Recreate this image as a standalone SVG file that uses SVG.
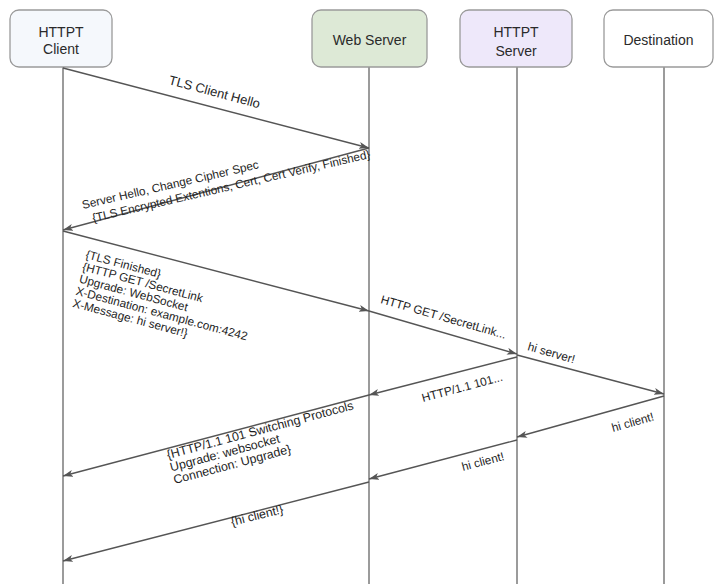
<svg xmlns="http://www.w3.org/2000/svg" width="715" height="584" viewBox="0 0 715 584">
  <style>
    .box { stroke: #9a9a9a; stroke-width: 1.3; }
    .life { stroke: #7a7a7a; stroke-width: 1.5; fill: none; }
    .msg { stroke: #555; stroke-width: 1.4; fill: none; marker-end: url(#head); }
    .node { font-family: "Liberation Sans", Arial, sans-serif; font-size: 14px; fill: #2a2a2a; text-anchor: middle; }
    .lbl { font-family: "Liberation Sans", Arial, sans-serif; font-size: 11.8px; fill: #1e1e1e; }
    .big { font-size: 13px; }
    .mid { font-size: 12.4px; }
  </style>
  <defs>
    <marker id="head" markerUnits="userSpaceOnUse" markerWidth="11" markerHeight="8" refX="10" refY="3.5" orient="auto">
      <path d="M0,0 L10,3.5 L0,7 L2.5,3.5 Z" fill="#555"/>
    </marker>
  </defs>
  <rect width="715" height="584" fill="#ffffff"/>

  <!-- lifelines -->
  <g id="lifelines">
    <line class="life" x1="63" y1="67" x2="63" y2="584"/>
    <line class="life" x1="369" y1="67" x2="369" y2="584"/>
    <line class="life" x1="517" y1="67" x2="517" y2="584"/>
    <line class="life" x1="664" y1="67" x2="664" y2="584"/>
  </g>

  <!-- participants -->
  <g id="httpt-client">
    <rect class="box" x="10" y="10" width="102" height="57" rx="9" fill="#f5f8fc"/>
    <text class="node" x="61" y="37">HTTPT</text>
    <text class="node" x="61" y="54">Client</text>
  </g>
  <g id="web-server">
    <rect class="box" x="312" y="10" width="115" height="57" rx="9" fill="#dde9d6" stroke="#8f9c87"/>
    <text class="node" x="369.5" y="45">Web Server</text>
  </g>
  <g id="httpt-server">
    <rect class="box" x="460" y="10" width="112" height="57" rx="9" fill="#eee8fa" stroke="#a8a0b5"/>
    <text class="node" x="516" y="37">HTTPT</text>
    <text class="node" x="516" y="56">Server</text>
  </g>
  <g id="destination">
    <rect class="box" x="604" y="10" width="109" height="57" rx="9" fill="#ffffff"/>
    <text class="node" x="658.5" y="45">Destination</text>
  </g>

  <!-- messages -->
  <g id="connectors">
    <line class="msg" x1="63" y1="68" x2="369" y2="148"/>
    <line class="msg" x1="369" y1="148" x2="63" y2="230"/>
    <line class="msg" x1="63" y1="231" x2="369" y2="311"/>
    <line class="msg" x1="369" y1="311" x2="517" y2="354"/>
    <line class="msg" x1="517" y1="355" x2="664" y2="394"/>
    <line class="msg" x1="517" y1="357" x2="369" y2="395"/>
    <line class="msg" x1="369" y1="395" x2="63" y2="476"/>
    <line class="msg" x1="664" y1="396" x2="517" y2="437"/>
    <line class="msg" x1="517" y1="440" x2="369" y2="479"/>
    <line class="msg" x1="369" y1="482" x2="63" y2="561"/>
  </g>

  <!-- message labels -->
  <g id="labels">
    <text class="lbl big" transform="translate(168,84) rotate(15)">TLS Client Hello</text>
    <text class="lbl" transform="translate(83,209) rotate(-13)">
      <tspan x="0" y="0">Server Hello, Change Cipher Spec</tspan>
      <tspan x="7" y="15">{TLS Encrypted Extentions, Cert, Cert Verify, Finished}</tspan>
    </text>
    <text class="lbl" transform="translate(85,258) rotate(15)">
      <tspan x="0" y="0">{TLS Finished}</tspan>
      <tspan x="0" y="12.6">{HTTP GET /SecretLink</tspan>
      <tspan x="0" y="25.2">Upgrade: WebSocket</tspan>
      <tspan x="0" y="37.8">X-Destination: example.com:4242</tspan>
      <tspan x="0" y="50.4">X-Message: hi server!}</tspan>
    </text>
    <text class="lbl" transform="translate(380,303) rotate(16)">HTTP GET /SecretLink...</text>
    <text class="lbl" transform="translate(527,350) rotate(16)">hi server!</text>
    <text class="lbl" transform="translate(423,402) rotate(-15)">HTTP/1.1 101...</text>
    <text class="lbl mid" transform="translate(168,459) rotate(-15)">
      <tspan x="0" y="0">{HTTP/1.1 101 Switching Protocols</tspan>
      <tspan x="0" y="13">Upgrade: websocket</tspan>
      <tspan x="0" y="26">Connection: Upgrade}</tspan>
    </text>
    <text class="lbl" transform="translate(613,432) rotate(-16)">hi client!</text>
    <text class="lbl" transform="translate(463,471) rotate(-15)">hi client!</text>
    <text class="lbl mid" transform="translate(232,526) rotate(-14)">{hi client!}</text>
  </g>
</svg>
